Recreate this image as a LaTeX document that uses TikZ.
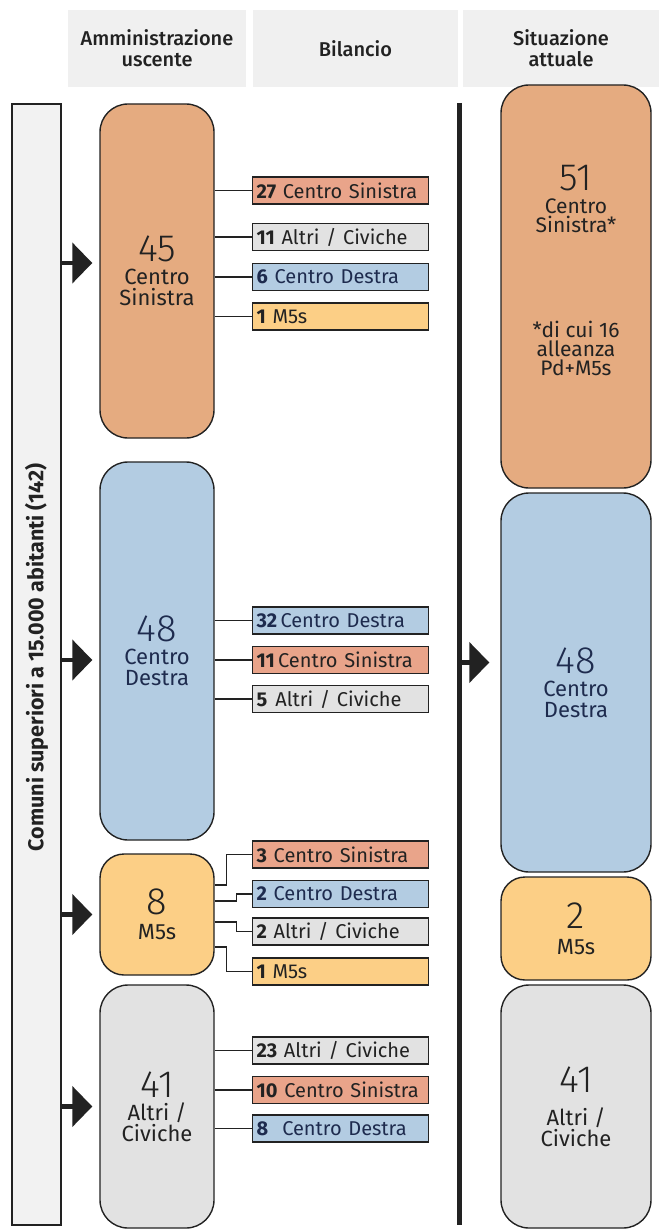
\documentclass[tikz,border=0pt]{standalone}
\usepackage{fontspec}
\setmainfont{Fira Sans}
\IfFontExistsTF{Fira Sans Light}{\newfontfamily\numfont{Fira Sans Light}}{\newfontfamily\numfont{Fira Sans}}
\IfFontExistsTF{Fira Sans Medium}{\newfontfamily\medfont{Fira Sans Medium}}{\newfontfamily\medfont{Fira Sans}}
\usetikzlibrary{arrows.meta}

\definecolor{csorange}{HTML}{E5AB80}
\definecolor{cssalmon}{HTML}{E9A48A}
\definecolor{cdblue}{HTML}{B3CCE2}
\definecolor{mfyellow}{HTML}{FCCF86}
\definecolor{acgray}{HTML}{E2E2E2}
\definecolor{hdrgray}{HTML}{F0F0F0}
\definecolor{colgray}{HTML}{F2F2F2}
\definecolor{ink}{HTML}{222222}
\definecolor{navy}{HTML}{1E2B4E}

\newcommand{\bignum}[1]{{\numfont\fontsize{38}{38}\selectfont #1}}

\begin{document}
\begin{tikzpicture}[x=1pt,y=-1pt,
    arrow/.style = {line width=4.5pt,draw=ink,-{Triangle[length=20pt,width=40pt]},shorten >=7pt},
    party/.style = {draw=ink,line width=1.4pt,rounded corners=28pt,minimum width=114pt,
                    align=center,inner sep=0pt,text=ink,font=\fontsize{22}{21}\selectfont},
    result/.style = {party,minimum width=150pt},
    share/.style = {draw=ink,line width=1.3pt,anchor=west,minimum width=176pt,minimum height=27pt,
                    text width=168pt,inner xsep=4pt,inner ysep=0pt,align=left,text=ink,
                    font=\fontsize{20}{20}\selectfont},
    link/.style = {draw=ink,line width=1.3pt},
    hdr/.style = {fill=hdrgray,minimum height=77pt,align=center,text=ink,font=\medfont\fontsize{20}{21}\selectfont}]
    \useasboundingbox (0,0) rectangle (659,1230);

    % Header
    \node[hdr,minimum width=178pt] (h1) at (157,48.5) {Amministrazione\\uscente};
    \node[hdr,minimum width=205pt] (h2) at (355.5,48.5) {Bilancio};
    \node[hdr,minimum width=196pt] (h3) at (561,48.5) {Situazione\\attuale};

    % Comuni
    \node[draw=ink,line width=1.3pt,fill=colgray,minimum width=49pt,minimum height=1121pt] (comuni) at (36.5,664.5) {};
    \node[rotate=90,text=ink,font=\bfseries\fontsize{21.5}{21}\selectfont] (comunitxt) at ([yshift=7pt]comuni.center)
        {Comuni superiori a 15.000 abitanti (142)};

    % Amministrazione uscente
    \node[party,fill=csorange,minimum height=334pt] (cs) at (157,271) {\bignum{45}\\[2pt]Centro\\Sinistra};
    \node[party,fill=cdblue,minimum height=378pt,text=navy] (cd) at (157,651) {\bignum{48}\\[2pt]Centro\\Destra};
    \node[party,fill=mfyellow,minimum height=121pt,rounded corners=24pt] (mf) at (157,914.5) {\bignum{8}\\[4pt]M5s};
    \node[party,fill=acgray,minimum height=243pt] (ac) at (157,1106.5) {\bignum{41}\\[2pt]Altri /\\Civiche};

    \coordinate (csin) at ([yshift=8pt]cs.west);
    \coordinate (cdin) at ([yshift=-9pt]cd.west);
    \draw[arrow] (comuni.east |- csin) -- (csin);
    \draw[arrow] (comuni.east |- cdin) -- (cdin);
    \draw[arrow] (comuni.east |- mf.west) -- (mf.west);
    \draw[arrow] (comuni.east |- ac.west) -- (ac.west);

    % Bilancio: Centro Sinistra
    \node[share,fill=cssalmon] (cs1) at (252,190.5) {\mbox{\textbf{27} Centro Sinistra}};
    \node[share,fill=acgray]   (cs2) at (252,237)   {\mbox{\textbf{11} Altri / Civiche}};
    \node[share,fill=cdblue,text=navy] (cs3) at (252,277) {\mbox{\textbf{6} Centro Destra}};
    \node[share,fill=mfyellow] (cs4) at (252,316.5) {\mbox{\textbf{1} M5s}};
    \foreach \s in {cs1,cs2,cs3,cs4}
        \draw[link] (cs.east |- \s.west) -- (\s.west);

    % Bilancio: Centro Destra
    \node[share,fill=cdblue,text=navy] (cd1) at (252,620.5) {\mbox{\textbf{32}\,Centro Destra}};
    \node[share,fill=cssalmon] (cd2) at (252,660) {\mbox{\textbf{11}\,Centro Sinistra}};
    \node[share,fill=acgray]   (cd3) at (252,699) {\mbox{\textbf{5}\hspace{8pt}Altri / Civiche}};
    \foreach \s in {cd1,cd2,cd3}
        \draw[link] (cd.east |- \s.west) -- (\s.west);

    % Bilancio: M5s
    \node[share,fill=cssalmon] (mf1) at (252,854.5) {\mbox{\textbf{3} Centro Sinistra}};
    \node[share,fill=cdblue,text=navy] (mf2) at (252,894) {\mbox{\textbf{2} Centro Destra}};
    \node[share,fill=acgray]   (mf3) at (252,931.5) {\mbox{\textbf{2} Altri / Civiche}};
    \node[share,fill=mfyellow] (mf4) at (252,971.5) {\mbox{\textbf{1} M5s}};
    \draw[link] ([yshift=29.5pt]mf.east) -- ++(12,0) |- (mf1.west);
    \draw[link] ([yshift=13.5pt]mf.east) -- ++(22,0) |- (mf2.west);
    \draw[link] ([yshift=-7.5pt]mf.east) -- ++(22,0) |- (mf3.west);
    \draw[link] ([yshift=-32.5pt]mf.east) -- ++(12,0) |- (mf4.west);

    % Bilancio: Altri / Civiche
    \node[share,fill=acgray]   (ac1) at (252,1050.5) {\mbox{\textbf{23} Altri / Civiche}};
    \node[share,fill=cssalmon] (ac2) at (252,1090)   {\mbox{\textbf{10} Centro Sinistra}};
    \node[share,fill=cdblue,text=navy] (ac3) at (252,1128.5) {\mbox{\textbf{8}\hspace{14pt}Centro Destra}};
    \foreach \s in {ac1,ac2,ac3}
        \draw[link] (ac.east |- \s.west) -- (\s.west);

    % Situazione attuale
    \coordinate (vtop) at (459,103);
    \coordinate (vbot) at (459,1225);
    \draw[line width=5pt,ink] (vtop) -- (vbot);

    \node[result,fill=csorange,minimum height=403pt] (rcs) at (576,286.5) {};
    \node[align=center,text=ink,font=\fontsize{21}{19}\selectfont] (rcsnum) at (576,199)
        {\bignum{51}\\[4pt]Centro\\Sinistra*};
    \node[align=center,text=ink,font=\fontsize{21}{19}\selectfont] (rcsnote) at (576,348)
        {*di cui 16\\alleanza\\Pd+M5s};
    \node[result,fill=cdblue,minimum height=379pt,text=navy] (rcd) at (576,682.5) {\bignum{48}\\[2pt]Centro\\Destra};
    \node[result,fill=mfyellow,minimum height=103pt,rounded corners=24pt] (rmf) at (576,928.5) {\bignum{2}\\[5pt]M5s};
    \node[result,fill=acgray,minimum height=243pt] (rac) at (576,1106.5) {\bignum{41}\\[12pt]Altri /\\Civiche};

    \coordinate (rcdin) at ([yshift=20pt]rcd.west);
    \draw[arrow,shorten >=11pt] (vtop |- rcdin) -- (rcdin);
\end{tikzpicture}
\end{document}
